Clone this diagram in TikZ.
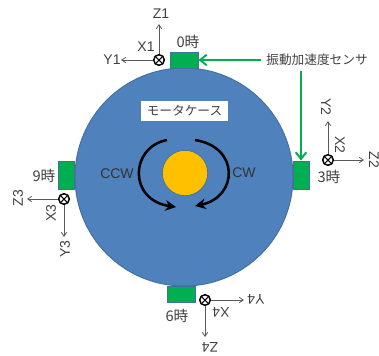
\documentclass[tikz,border=0pt]{standalone}
\usepackage{fontspec}
\setmainfont{Liberation Sans}
\newfontfamily\cjk{Noto Sans CJK JP}
\usepackage{xcolor}
\usetikzlibrary{arrows.meta, positioning}
\definecolor{casefill}{HTML}{4F81BD}
\definecolor{caseline}{HTML}{41719C}
\definecolor{sensorgreen}{HTML}{00B050}
\definecolor{motoryellow}{HTML}{FFC000}
\definecolor{axisgray}{HTML}{595959}
\definecolor{labelgray}{HTML}{404040}
\tikzset{
  sensorh/.style={draw=caseline,fill=sensorgreen,line width=0.7pt,minimum width=21pt,minimum height=12pt,inner sep=0pt},
  sensorv/.style={draw=caseline,fill=sensorgreen,line width=0.7pt,minimum width=12pt,minimum height=21pt,inner sep=0pt},
  xsym/.style={circle,draw=black,fill=white,line width=1.1pt,minimum size=8pt,inner sep=0pt,
    path picture={\draw[line width=0.8pt] (path picture bounding box.north west) -- (path picture bounding box.south east)
      (path picture bounding box.north east) -- (path picture bounding box.south west);}},
  axisline/.style={draw=axisgray,line width=0.6pt,-{Straight Barb[length=3pt,width=4pt]}},
  greenline/.style={draw=sensorgreen,line width=1.5pt,-{Straight Barb[length=5pt,width=8pt]}},
  turnline/.style={draw=black,line width=1.9pt,-{Stealth[length=8pt,width=8pt]}},
  axislabel/.style={text=labelgray,font=\fontsize{10.5}{12}\selectfont,inner sep=1pt},
  hourlabel/.style={text=labelgray,font=\fontsize{11}{12}\cjk,inner sep=1pt}
}
\begin{document}
\begin{tikzpicture}[x=0.75pt,y=-0.75pt]
\useasboundingbox (0,0) rectangle (379,355);
% --- motor case ---
\node[circle,draw=caseline,fill=casefill,line width=0.7pt,minimum size=163.5pt,inner sep=0pt] (case) at (184,177) {};
\node[circle,draw=caseline,fill=motoryellow,line width=0.5pt,minimum size=34pt,inner sep=0pt] (motor) at (185,173) {};
\node[fill=white,text=labelgray,font=\fontsize{9.5}{12}\cjk,minimum width=65pt,minimum height=15pt,inner sep=0pt] (caselabel) at (184.5,111) {モータケース};
% rotation arrows
\draw[turnline] (167,140) .. controls (130,147) and (128,200) .. (176,207);
\draw[turnline] (195,140) .. controls (240,147) and (238,197) .. (195,206);
\node[axislabel,text=black!80] (ccw) at (117,174) {CCW};
\node[axislabel,text=black!80] (cw) at (244,173) {CW};
% --- sensors ---
\node[sensorh] (s0) at (184,60) {};
\node[sensorv] (s3) at (301,175) {};
\node[sensorh] (s6) at (181,294) {};
\node[sensorv] (s9) at (66.5,175) {};
\node[hourlabel] (h0) at (188,42) {0時};
\node[hourlabel] (h3) at (329,177) {3時};
\node[hourlabel] (h6) at (177,316) {6時};
\node[hourlabel] (h9) at (44,176) {9時};
% --- sensor label ---
\node[text=labelgray,font=\fontsize{9.5}{12}\cjk,inner sep=4pt] (senslabel) at (317,60) {振動加速度センサ};
\draw[greenline] (senslabel) -- (s0);
\draw[greenline] (senslabel.south -| s3) -- (s3);
% --- axes at 0 o'clock ---
\node[xsym] (x1) at (159,60) {};
\coordinate (z1tip) at (159,24);
\coordinate (y1tip) at (121,60);
\draw[axisline] (x1) -- (z1tip);
\draw[axisline] (x1) -- (y1tip);
\node[axislabel] (z1) at (161,14) {Z1};
\node[axislabel] (xl1) at (146,47) {X1};
\node[axislabel] (y1) at (112,60) {Y1};
% --- axes at 3 o'clock ---
\node[xsym] (x2) at (328,160) {};
\coordinate (y2tip) at (328,121);
\coordinate (z2tip) at (364,160);
\draw[axisline] (x2) -- (y2tip);
\draw[axisline] (x2) -- (z2tip);
\node[axislabel,rotate=-90] (y2) at (326,107) {Y2};
\node[axislabel,rotate=-90] (xl2) at (340,145) {X2};
\node[axislabel,rotate=-90] (z2) at (374,160) {Z2};
% --- axes at 9 o'clock ---
\node[xsym] (x3) at (64,199) {};
\coordinate (z3tip) at (27,199);
\coordinate (y3tip) at (64,237);
\draw[axisline] (x3) -- (z3tip);
\draw[axisline] (x3) -- (y3tip);
\node[axislabel,rotate=90] (z3) at (18,198) {Z3};
\node[axislabel,rotate=90] (xl3) at (51,213) {X3};
\node[axislabel,rotate=90] (y3) at (65,249) {Y3};
% --- axes at 6 o'clock ---
\node[xsym] (x4) at (205,300) {};
\coordinate (y4tip) at (244,300);
\coordinate (z4tip) at (205,337);
\draw[axisline] (x4) -- (y4tip);
\draw[axisline] (x4) -- (z4tip);
\node[axislabel,rotate=180] (y4) at (256,299) {Y4};
\node[axislabel,rotate=180] (xl4) at (221,312) {X4};
\node[axislabel,rotate=180] (z4) at (210,347) {Z4};
\end{tikzpicture}
\end{document}
